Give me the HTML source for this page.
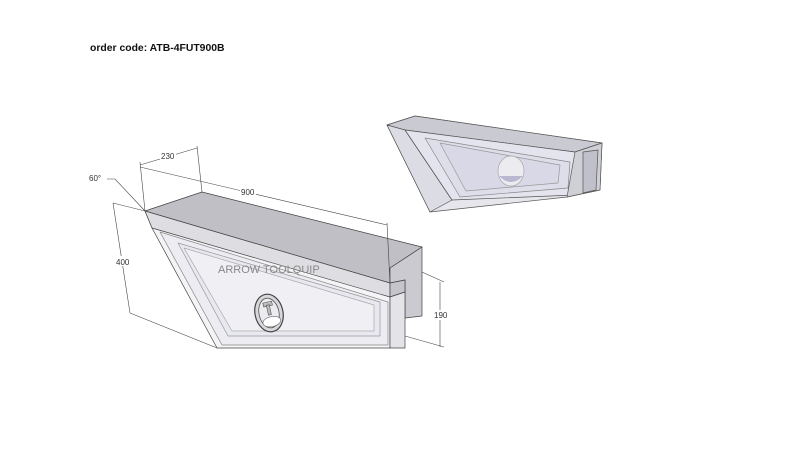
<!DOCTYPE html>
<html><head><meta charset="utf-8"><style>
html,body{margin:0;padding:0;background:#fff;}
svg{display:block;}
</style></head><body>
<svg width="800" height="472" viewBox="0 0 800 472" xmlns="http://www.w3.org/2000/svg" font-family="Liberation Sans, sans-serif">
<rect width="800" height="472" fill="#fff"/>
<text x="90" y="51" font-size="10.4" font-weight="bold" fill="#111">order code: ATB-4FUT900B</text>

<!-- second box -->
<g stroke="#555" stroke-width="0.7" stroke-linejoin="round">
<polygon points="387,125 415,116 602,143 600,190 567,197 430,212" fill="#e6e6ec"/>
<polygon points="387,125 415,116 602,143 575,152 405,130" fill="#cacad2"/>
<polygon points="387,125 405,130 452,200 430,212" fill="#dcdce4"/>
<polygon points="405,130 575,152 575,195 452,200" fill="#e4e4ee"/>
<polygon points="425,138 570,162 568,188 460,197" fill="#dedeea" stroke="#888"/>
<polygon points="440,143 560,165 558,183 466,191" fill="#d8d8e6" stroke="#999"/>
<polygon points="575,152 602,143 600,190 567,197" fill="#cfcfd6"/>
<polygon points="583,152 598,150 596,190 583,193" fill="#c0c0ca"/>
<ellipse cx="511" cy="171" rx="13" ry="15" fill="#ebebf0" stroke="#aaa"/>
<path d="M499,176 Q511,188 523,176 Z" fill="#b8b8d0" stroke="none"/>
</g>

<!-- main box -->
<g stroke="#444" stroke-width="0.7" stroke-linejoin="round">
<polygon points="145,211 390,283 390,348 217,348 152,228" fill="#f4f4f6"/>
<polygon points="145,211 202,192 422,247 390,268 390,283" fill="#bfbfc5"/>
<polygon points="145,211 390,283 390,297 152,228" fill="#dedee2"/>
<polygon points="390,268 422,247 422,316 405,318 405,280 390,283" fill="#cacad0"/>
<polygon points="390,283 405,280 405,292 390,297" fill="#c4c4ca"/>
<polygon points="390,297 405,292 405,348 390,348" fill="#e4e4e8"/>
<polygon points="160,232 388,302 388,345 222,345" fill="#ececf2" stroke="#888"/>
<polygon points="178,243 380,302 380,336 228,336" fill="#e8e8f0" stroke="#999"/>
<polygon points="184,248 374,305 374,331 232,331" fill="#f0f0f4" stroke="#aaa"/>
</g>
<text x="218" y="273" font-size="11" fill="#888">ARROW TOOLQUIP</text>
<!-- handle -->
<g transform="rotate(-12 269 313)">
<ellipse cx="269" cy="313" rx="14" ry="19" fill="#d8d8dc" stroke="#444" stroke-width="1.2"/>
<ellipse cx="269" cy="313" rx="10" ry="15" fill="#ececf0" stroke="#555" stroke-width="0.8"/>
<ellipse cx="270" cy="322" rx="9" ry="5" fill="#fff" stroke="#666" stroke-width="0.6"/>
<rect x="265" y="302" width="9" height="4" fill="#bbb" stroke="#555" stroke-width="0.6"/>
<rect x="268" y="305" width="3" height="10" fill="#bbb" stroke="#555" stroke-width="0.6"/>
</g>

<!-- dimensions -->
<g stroke="#444" stroke-width="0.6" fill="none">
<line x1="140" y1="165" x2="197" y2="148"/>
<line x1="140" y1="162" x2="145" y2="211"/>
<line x1="197" y1="146" x2="202" y2="192"/>
<line x1="140" y1="167" x2="387" y2="225"/>
<line x1="387" y1="223" x2="390" y2="283"/>
<line x1="113" y1="203" x2="130" y2="313"/>
<line x1="113" y1="203" x2="145" y2="211"/>
<line x1="130" y1="313" x2="217" y2="348"/>
<line x1="440" y1="282" x2="440" y2="347"/>
<line x1="422" y1="272" x2="444" y2="282"/>
<line x1="405" y1="336" x2="444" y2="347"/>
<polyline points="107,179 115,179 145,211"/>
</g>
<rect x="160" y="150" width="16" height="10" fill="#fff"/>
<text x="161" y="159" font-size="8" fill="#333">230</text>
<rect x="240" y="186" width="16" height="10" fill="#fff"/>
<text x="241" y="195" font-size="8" fill="#333">900</text>
<text x="89" y="181" font-size="8" fill="#333">60°</text>
<rect x="115" y="256" width="16" height="10" fill="#fff"/>
<text x="116" y="265" font-size="8" fill="#333">400</text>
<rect x="434" y="310" width="16" height="10" fill="#fff"/>
<text x="434" y="318" font-size="8" fill="#333">190</text>
</svg>
</body></html>
